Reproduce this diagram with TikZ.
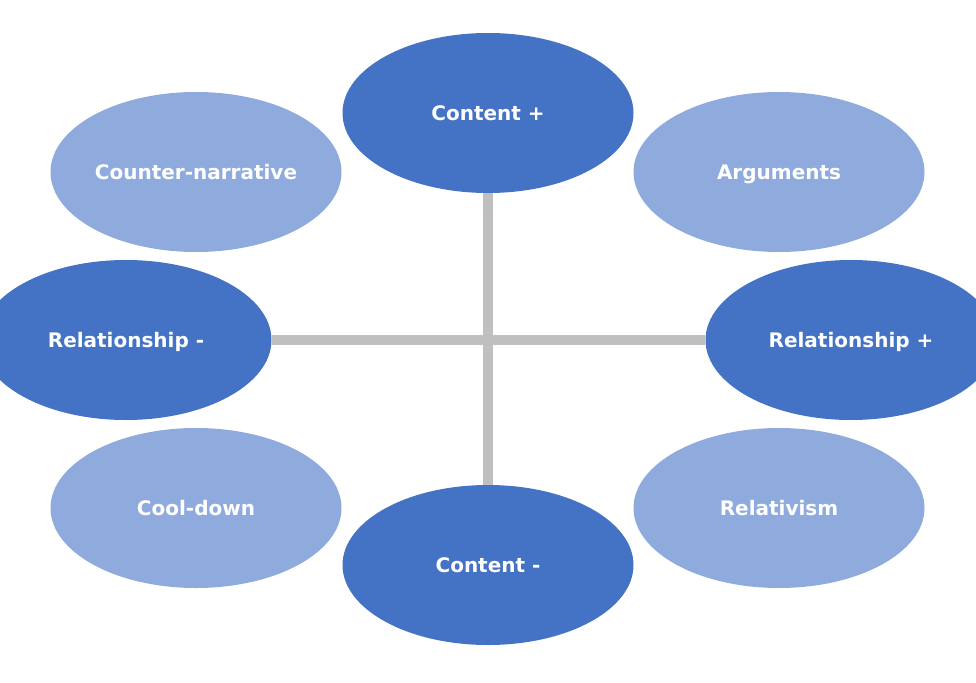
\documentclass[tikz,border=0pt]{standalone}
\usepackage{fontspec}
\setmainfont{DejaVu Sans}
\usetikzlibrary{shapes.geometric}
\definecolor{darkb}{HTML}{4472C4}
\definecolor{lightb}{HTML}{8FAADC}
\definecolor{linegray}{HTML}{BFBFBF}
\newcommand\ovaltext[1]{\makebox[0pt]{\raisebox{-0.36em}[0pt][0pt]{#1}}}
\begin{document}
\begin{tikzpicture}[x=1pt,y=-1pt,
  oval/.style={ellipse, minimum width=291pt, minimum height=160pt, inner sep=0pt,
    text=white, font=\fontsize{20}{24}\selectfont\bfseries},
  darkoval/.style={oval, fill=darkb},
  lightoval/.style={oval, fill=lightb},
  link/.style={draw=linegray, line width=10pt}]
\useasboundingbox (0,0) rectangle (976,682);
\clip (0,0) rectangle (976,682);
\node[darkoval] (ctop) at (488,113) {\ovaltext{Content +}};
\node[darkoval] (cbot) at (488,565) {\ovaltext{Content -}};
\node[darkoval] (rleft) at (126,340) {\ovaltext{Relationship -}};
\node[darkoval] (rright) at (851,340) {\ovaltext{Relationship +}};
\node[lightoval] (counter) at (196,172) {\ovaltext{Counter-narrative}};
\node[lightoval] (args) at (779,172) {\ovaltext{Arguments}};
\node[lightoval] (cool) at (196,508) {\ovaltext{Cool-down}};
\node[lightoval] (relat) at (779,508) {\ovaltext{Relativism}};
\draw[link] (ctop.south) -- (cbot.north);
\draw[link] (rleft.east) -- (rright.west);
\end{tikzpicture}
\end{document}
